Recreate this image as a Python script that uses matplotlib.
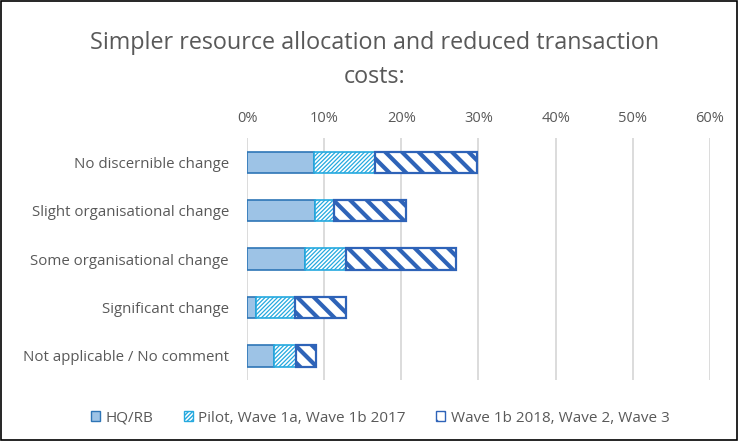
import matplotlib.pyplot as plt
import matplotlib.ticker as mtick
from matplotlib.patches import Rectangle, Patch
import numpy as np

plt.rcParams['font.family'] = ['Open Sans', 'DejaVu Sans']

categories = ['No discernible change', 'Slight organisational change',
              'Some organisational change', 'Significant change',
              'Not applicable / No comment']
hq_rb = [8.7, 8.8, 7.5, 1.2, 3.5]
pilot = [7.9, 2.5, 5.3, 5.0, 2.8]
wave_later = [13.2, 9.3, 14.3, 6.6, 2.6]
series_names = ['HQ/RB', 'Pilot, Wave 1a, Wave 1b 2017', 'Wave 1b 2018, Wave 2, Wave 3']

text_grey = '#595959'
hq_face, hq_edge = '#9DC3E6', '#2E75B6'
pilot_col = '#25A9DF'
wave_col = '#2E63B8'

fig = plt.figure(figsize=(7.38, 4.41), dpi=100)
ax = fig.add_axes([0.3347, 0.138, 0.6273, 0.549])

y = np.arange(len(categories))
h = 0.44

ax.barh(y, hq_rb, height=h, color=hq_face, edgecolor=hq_edge, linewidth=1.2)
b2 = ax.barh(y, pilot, left=hq_rb, height=h, color='white', edgecolor=pilot_col,
             hatch='////////', linewidth=1.2)
left3 = np.array(hq_rb) + np.array(pilot)
b3 = ax.barh(y, wave_later, left=left3, height=h, color='white', edgecolor=wave_col,
             hatch='\\\\', linewidth=1.6)
for r in b2:
    r.set_hatch_linewidth(0.9)
for r in b3:
    r.set_hatch_linewidth(3.0)

ax.set_xlim(0, 60)
ax.set_ylim(len(categories) - 0.5, -0.5)
ax.set_yticks(y)
ax.set_yticklabels(categories)
ax.xaxis.set_major_locator(mtick.MultipleLocator(10))
ax.xaxis.set_major_formatter(mtick.PercentFormatter(decimals=0))
ax.xaxis.tick_top()
ax.tick_params(axis='x', length=0, pad=9, labelsize=10.5, colors=text_grey)
ax.tick_params(axis='y', length=0, pad=13, labelsize=10.8, colors=text_grey)
ax.xaxis.grid(True, color='#D9D9D9', linewidth=1.3)
ax.set_axisbelow(True)
for s in ax.spines.values():
    s.set_visible(False)

fig.text(0.508, 0.864, 'Simpler resource allocation and reduced transaction\ncosts:',
         ha='center', va='center', fontsize=16.8, color=text_grey, linespacing=1.55)

handles = [
    Patch(facecolor=hq_face, edgecolor=hq_edge, label=series_names[0]),
    Patch(facecolor='white', edgecolor=pilot_col, hatch='////////', label=series_names[1]),
    Patch(facecolor='white', edgecolor=wave_col, hatch='\\\\', label=series_names[2]),
]
fig.legend(handles=handles, loc='center', bbox_to_anchor=(0.515, 0.052), ncol=3,
           frameon=False, fontsize=11, labelcolor=text_grey, handlelength=0.6,
           handleheight=0.6, handletextpad=0.35, columnspacing=2.0)

# thin frame round the whole figure
fig.add_artist(Rectangle((0.001, 0.002), 0.997, 0.996, transform=fig.transFigure,
                         fill=False, edgecolor='black', linewidth=1.2))

fig.savefig('out.png', dpi=100)
